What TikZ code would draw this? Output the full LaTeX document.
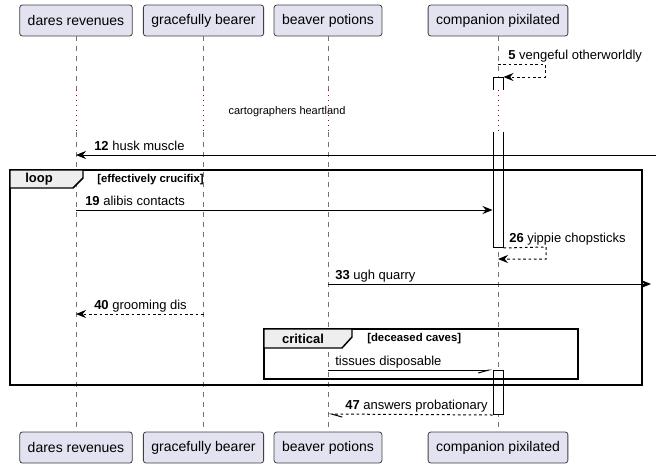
\documentclass[tikz,border=0pt]{standalone}
\usepackage{fontspec}
\setmainfont{Liberation Sans}
\usetikzlibrary{arrows.meta}
\definecolor{partfill}{HTML}{E2E2F0}
\definecolor{delaycol}{HTML}{A80036}
\definecolor{tabfill}{HTML}{EEEEEE}

\begin{document}
\begin{tikzpicture}[x=0.75pt,y=-0.75pt]
\tikzstyle{part}=[draw=black!75,line width=0.6pt,fill=partfill,rounded corners=2pt,minimum height=23.25pt,inner xsep=6pt,font=\fontsize{10.5}{12}\selectfont]
\tikzstyle{life}=[draw=black!55,line width=0.5pt,dash pattern=on 3.75pt off 3.75pt]
\tikzstyle{delay}=[draw=delaycol,line width=0.75pt,dash pattern=on 0.75pt off 3pt]
\tikzstyle{msg}=[line width=0.75pt,-{Stealth[length=7.5pt,width=6pt,inset=2.5pt]}]
\tikzstyle{ret}=[msg,dash pattern=on 2pt off 2pt]
\tikzstyle{half}=[line width=0.75pt,-{Straight Barb[harpoon,swap,length=8pt,width=4.5pt]}]
\tikzstyle{halfret}=[line width=0.75pt,dash pattern=on 2pt off 2pt,-{Straight Barb[harpoon,length=8pt,width=4.5pt]}]
\tikzstyle{lbl}=[anchor=base west,inner sep=0pt,font=\fontsize{9.75}{11}\selectfont]
\tikzstyle{actbar}=[draw,fill=white,line width=0.75pt,inner sep=0pt,minimum width=7.5pt,anchor=north]
\tikzstyle{frame}=[draw,line width=1.1pt]
\tikzstyle{tab}=[inner sep=0pt,font=\bfseries\fontsize{9.75}{11}\selectfont]
\tikzstyle{guard}=[anchor=west,inner sep=0pt,font=\bfseries\fontsize{8.5}{10}\selectfont]

\useasboundingbox (0,0) rectangle (656,468);

\node[part] (dr) at (76,20.5) {dares revenues};
\node[part] (gb) at (203.5,20.5) {gracefully bearer};
\node[part] (bp) at (328,20.5) {beaver potions};
\node[part] (cp) at (498,20.5) {companion pixilated};
\node[part] (dr-b) at (76,447.5) {dares revenues};
\node[part] (gb-b) at (203.5,447.5) {gracefully bearer};
\node[part] (bp-b) at (328,447.5) {beaver potions};
\node[part] (cp-b) at (498,447.5) {companion pixilated};

\foreach \p in {dr,gb,bp,cp}{
  \draw[life] (\p.south) -- (\p |- 0,90);
  \draw[life] (\p |- 0,132) -- (\p-b.north);
}

\node[actbar,minimum height=127.5pt] (act1) at (498,77) {};
\node[actbar,minimum height=33pt] (act2) at (498,370) {};
\fill[white] (491,90) rectangle (505,132);

\foreach \p in {dr,gb,bp,cp}
  \draw[delay] (\p |- 0,90) -- (\p |- 0,132);
\node[inner sep=0pt,font=\fontsize{8.25}{10}\selectfont] (dl) at (287,112) {cartographers heartland};

\draw[frame] (10,170) rectangle (642,385);
\draw[frame,fill=tabfill] (10,170) -- (83,170) -- (83,178) -- (73,188) -- (10,188) -- cycle;
\node[tab] (loopt) at (39,179) {loop};
\node[guard] (loopg) at (97,180) {[effectively crucifix]};

\draw[frame] (264,329) rectangle (578,379);
\draw[frame,fill=tabfill] (264,329) -- (352,329) -- (352,337) -- (342,348) -- (264,348) -- cycle;
\node[tab] (critt) at (303,338.5) {critical};
\node[guard] (critg) at (367,339) {[deceased caves]};

\coordinate (in12) at (656,155);
\coordinate (out33) at (651,284);

\draw[ret] (cp |- 0,64) -- (545,64) -- (545,77) -- (act1.north east);
\node[lbl] (l5) at (508,59) {\textbf{5} vengeful otherworldly};

\draw[msg] (in12) -- (dr |- in12);
\node[lbl] (l12) at (94,150) {\textbf{12} husk muscle};

\draw[msg] (dr |- 0,210) -- (act1.west |- 0,210);
\node[lbl] (l19) at (85,205) {\textbf{19} alibis contacts};

\draw[ret] (act1.south east) -- (546,247) -- (546,259) -- (cp |- 0,259);
\node[lbl] (l26) at (509,242) {\textbf{26} yippie chopsticks};

\draw[msg] (bp |- out33) -- (out33);
\node[lbl] (l33) at (335,279) {\textbf{33} ugh quarry};

\draw[ret] (gb |- 0,314) -- (dr |- 0,314);
\node[lbl] (l40) at (94,309) {\textbf{40} grooming dis};

\draw[half] (bp |- 0,370) -- (act2.north west);
\node[lbl] (lts) at (335,365) {tissues disposable};

\draw[halfret] (act2.south west) -- (bp |- 0,414);
\node[lbl] (l47) at (345,409) {\textbf{47} answers probationary};
\end{tikzpicture}
\end{document}
